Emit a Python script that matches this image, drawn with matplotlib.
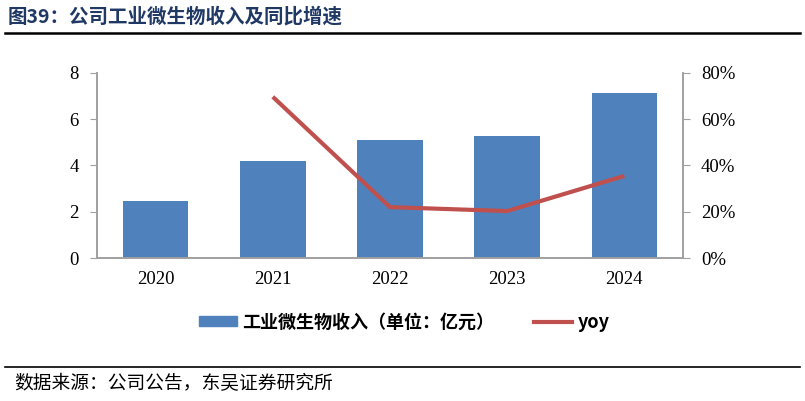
import matplotlib.pyplot as plt
from matplotlib.lines import Line2D
from matplotlib.patches import Patch

plt.rcParams['font.family'] = ['Liberation Serif', 'Noto Sans CJK SC']

# data
years = ["2020", "2021", "2022", "2023", "2024"]
revenue = [2.47, 4.20, 5.10, 5.28, 7.14]      # 亿元
yoy_years = ["2021", "2022", "2023", "2024"]
yoy = [0.697, 0.22, 0.203, 0.355]

BAR_COLOR = "#4F81BD"
LINE_COLOR = "#C0504D"
AX_COLOR = "#A0A0A0"
CJK = ['Noto Sans CJK SC', 'DejaVu Sans']

fig = plt.figure(figsize=(8.05, 4.01), dpi=100)
ax = fig.add_axes([0.1205, 0.3566, 0.7279, 0.4614])

x = list(range(len(years)))
ax.bar(x, revenue, width=0.56, color=BAR_COLOR, zorder=2)
ax.set_xlim(-0.5, len(years) - 0.5)
ax.set_ylim(0, 8)
ax.set_yticks([0, 2, 4, 6, 8])
ax.set_xticks(x)
ax.set_xticklabels(years)

ax2 = ax.twinx()
yx = [years.index(y) for y in yoy_years]
ax2.plot(yx, yoy, color=LINE_COLOR, lw=3, solid_capstyle="butt", zorder=3)
ax2.set_ylim(0, 0.8)
ax2.set_yticks([0, 0.2, 0.4, 0.6, 0.8])
ax2.set_yticklabels(["0%", "20%", "40%", "60%", "80%"])

for a in (ax, ax2):
    a.spines["top"].set_visible(False)
    for s in ("left", "right", "bottom"):
        a.spines[s].set_color(AX_COLOR)
        a.spines[s].set_linewidth(1.2)
    a.tick_params(axis="y", direction="out", length=5, color=AX_COLOR,
                  labelsize=13.5, pad=8)
ax.tick_params(axis="x", length=0, labelsize=13.5, pad=9)

# legend
handles = [Patch(color=BAR_COLOR), Line2D([], [], color=LINE_COLOR, lw=3)]
fig.legend(handles, ["工业微生物收入（单位：亿元）", "yoy"],
           loc="center", bbox_to_anchor=(0.502, 0.197), ncol=2, frameon=False,
           prop={"family": CJK, "weight": "bold", "size": 13},
           handlelength=2.1, handleheight=0.45, handletextpad=0.3,
           columnspacing=2.2)

# title and footer
fig.text(0.01, 0.96, "图39：公司工业微生物收入及同比增速", family=CJK,
         weight="bold", size=14, color="#1F3864", va="center")
fig.add_artist(Line2D([0.006, 0.994], [0.918, 0.918], color="black", lw=1.8))
fig.add_artist(Line2D([0.006, 0.994], [0.085, 0.085], color="black", lw=1.2))
fig.text(0.018, 0.043, "数据来源：公司公告，东吴证券研究所", family=CJK,
         size=13.5, va="center")

fig.savefig("out.png", dpi=100)
